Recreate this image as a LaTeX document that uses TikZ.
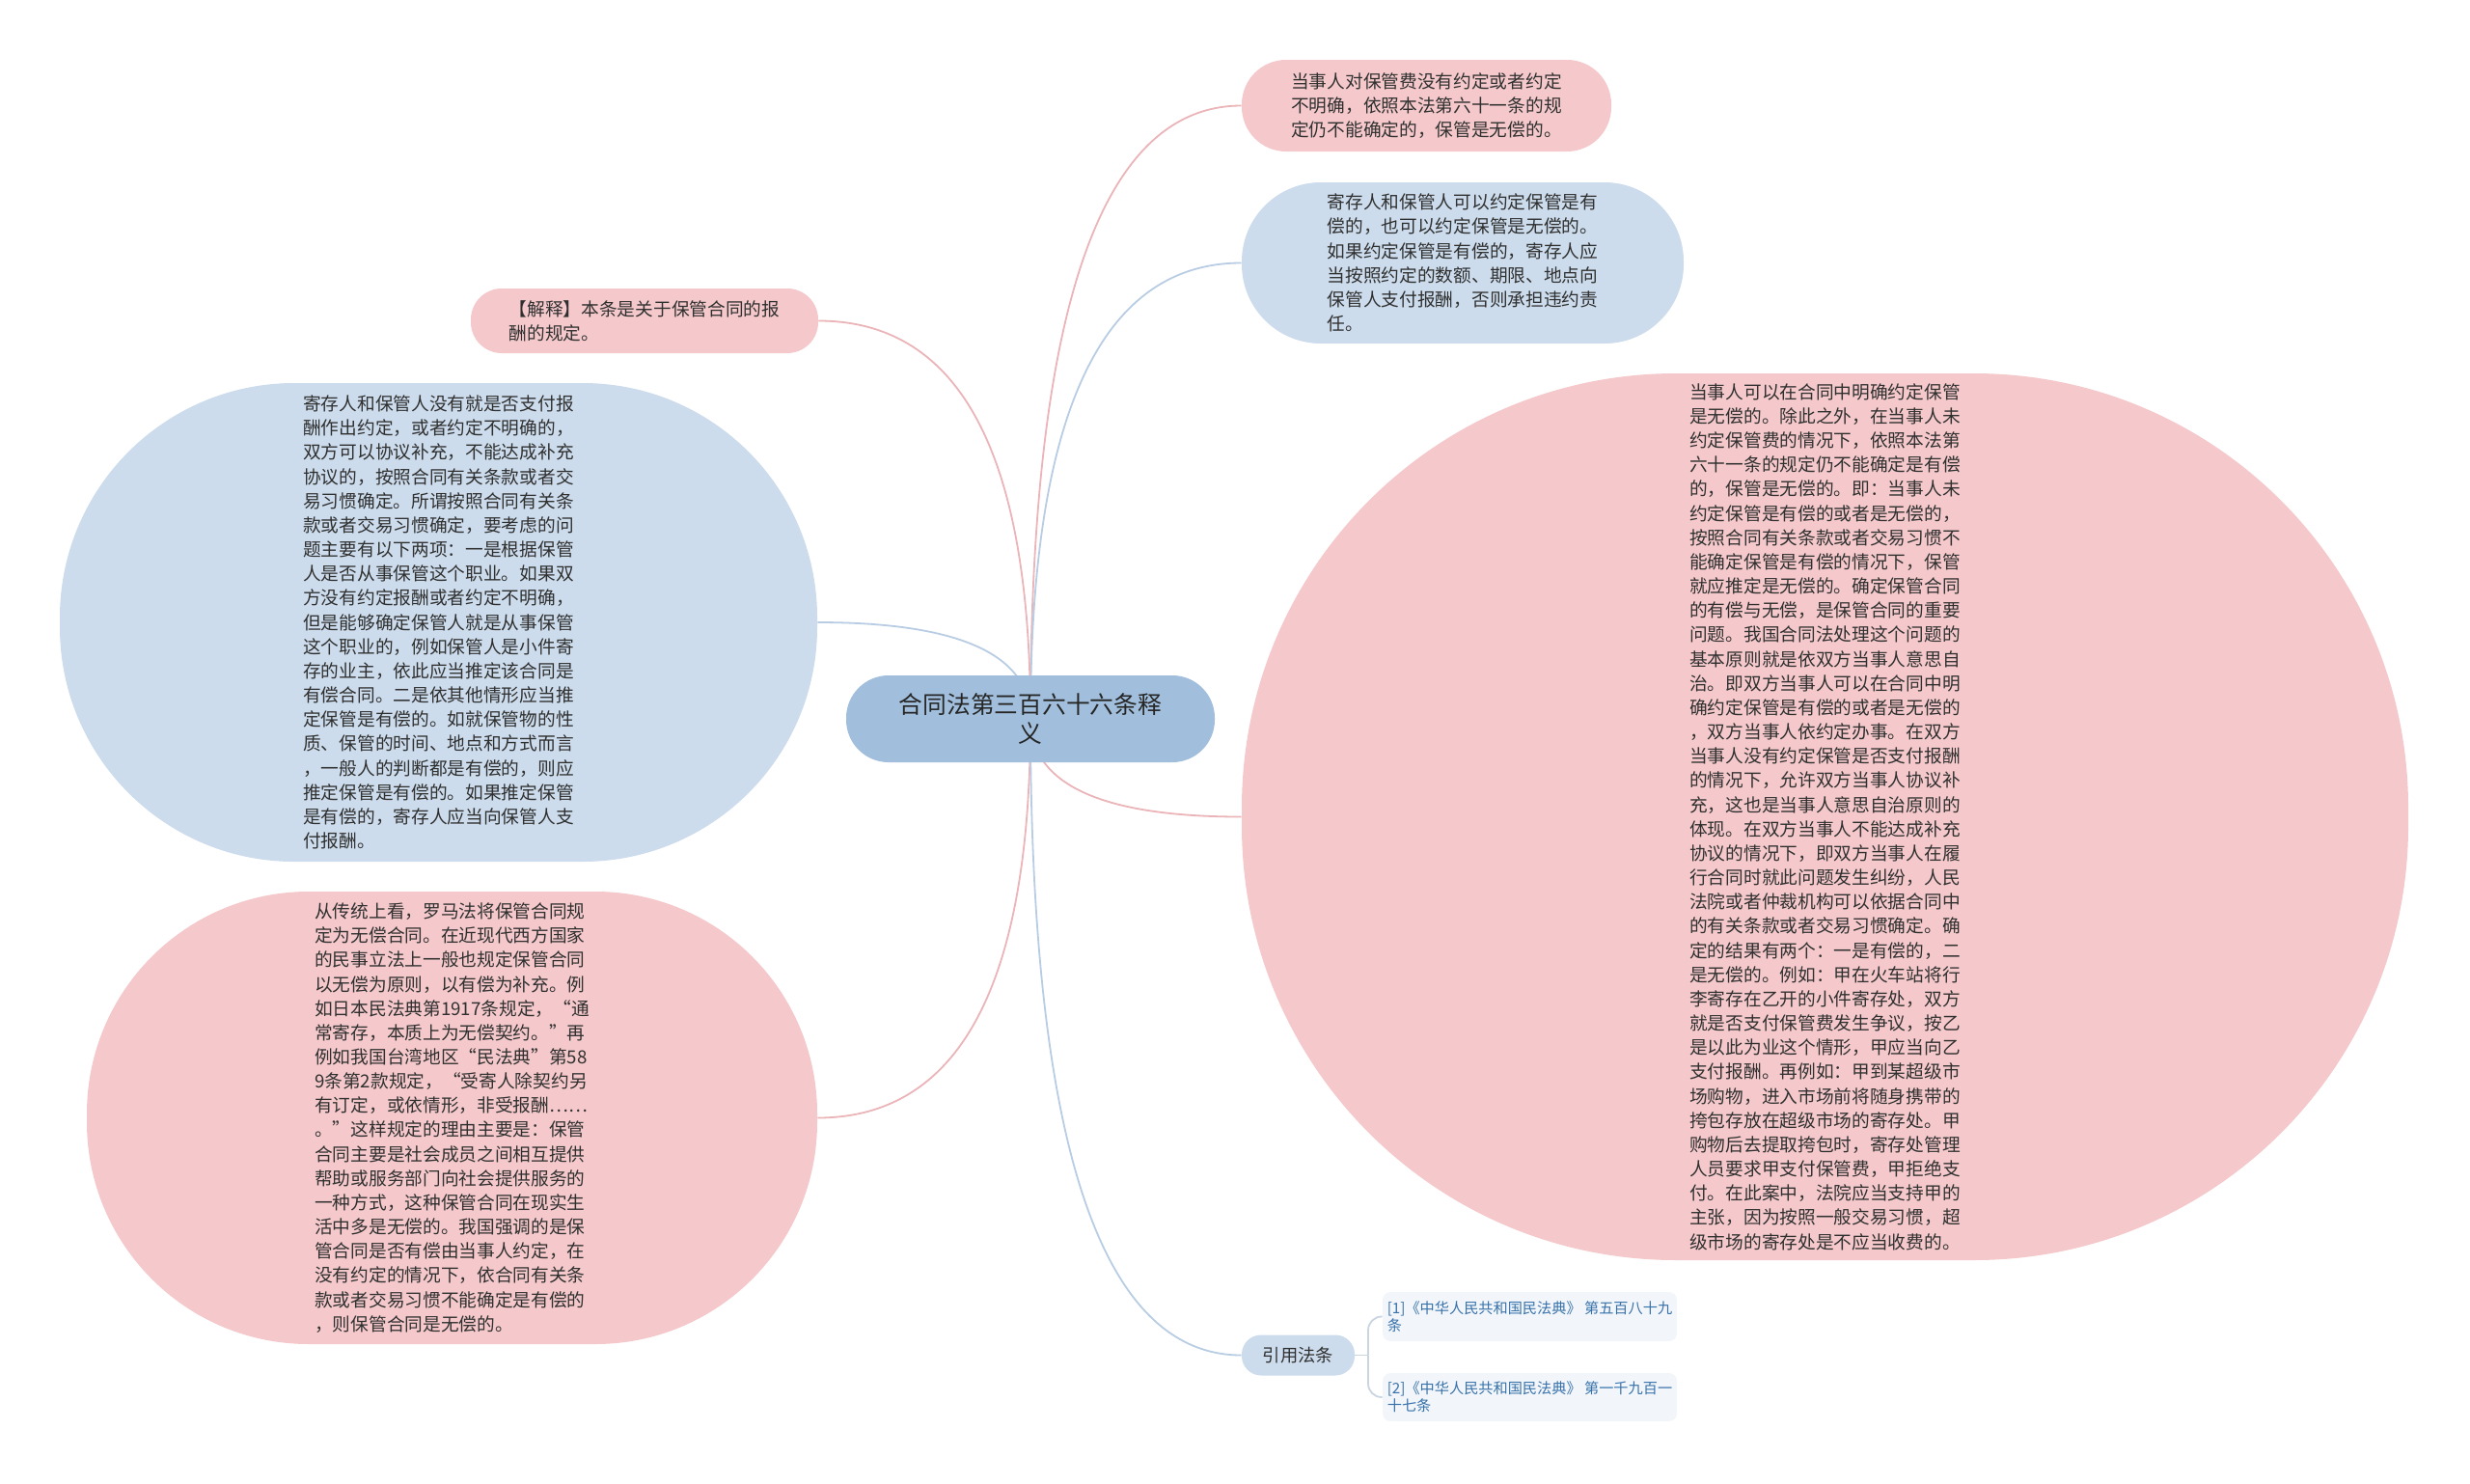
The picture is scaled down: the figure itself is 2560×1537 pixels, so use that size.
\documentclass[tikz,border=0pt]{standalone}
\usepackage{fontspec}
\setmainfont{Noto Sans CJK SC}
\usepackage{xcolor}
\usepackage{tikz}
\usetikzlibrary{calc, backgrounds}

\definecolor{pinkfill}{HTML}{F5C9CB}
\definecolor{bluefill}{HTML}{CCDCEC}
\definecolor{rootfill}{HTML}{A1BFDC}
\definecolor{pinkline}{HTML}{EBB4B8}
\definecolor{blueline}{HTML}{B8CDE3}
\definecolor{forkline}{HTML}{C9D5E1}
\definecolor{reffill}{HTML}{F2F6FB}
\definecolor{reftext}{HTML}{3872AA}
\definecolor{bodytext}{HTML}{303030}

\begin{document}
\begin{tikzpicture}[
      x=0.25mm, y=-0.25mm,
      every node/.style = {shape=rectangle, inner sep=0pt, align=left,
        text=bodytext, font=\fontsize{13.3pt}{17.9pt}\selectfont},
      sized/.style args = {#1/#2/#3}{minimum width=#1*0.25mm,
        minimum height=#2*0.25mm, rounded corners=#3*0.25mm},
      pinkbox/.style = {fill=pinkfill},
      bluebox/.style = {fill=bluefill},
      rootbox/.style = {fill=rootfill, align=center, text=black!85,
        font=\fontsize{17.6pt}{21.3pt}\selectfont},
      citebox/.style = {fill=bluefill, align=center,
        font=\fontsize{13pt}{16pt}\selectfont},
      refbox/.style = {fill=reffill, text=reftext,
        font=\fontsize{10.8pt}{13pt}\selectfont},
      link/.style = {line width=0.45mm}
    ]
      \useasboundingbox (0,0) rectangle (2560,1537);

      \node[rootbox, sized=382/90/44] (root) at (1068,745)
        {合同法第三百六十六条释\\义};

      \node[pinkbox, sized=383/95/46] (nA) at (1478.5,109.5)
        {当事人对保管费没有约定或者约定\\不明确，依照本法第六十一条的规\\定仍不能确定的，保管是无偿的。};
      \node[bluebox, sized=458/167/82] (nB) at (1516,272.5)
        {寄存人和保管人可以约定保管是有\\偿的，也可以约定保管是无偿的。\\如果约定保管是有偿的，寄存人应\\当按照约定的数额、期限、地点向\\保管人支付报酬，否则承担违约责\\任。};
      \node[pinkbox, sized=360/67/32] (nC) at (668,332.5)
        {【解释】本条是关于保管合同的报\\酬的规定。};
      \node[bluebox, sized=785/496/243] (nD) at (454.5,645)
        {寄存人和保管人没有就是否支付报\\酬作出约定，或者约定不明确的，\\双方可以协议补充，不能达成补充\\协议的，按照合同有关条款或者交\\易习惯确定。所谓按照合同有关条\\款或者交易习惯确定，要考虑的问\\题主要有以下两项：一是根据保管\\人是否从事保管这个职业。如果双\\方没有约定报酬或者约定不明确，\\但是能够确定保管人就是从事保管\\这个职业的，例如保管人是小件寄\\存的业主，依此应当推定该合同是\\有偿合同。二是依其他情形应当推\\定保管是有偿的。如就保管物的性\\质、保管的时间、地点和方式而言\\，一般人的判断都是有偿的，则应\\推定保管是有偿的。如果推定保管\\是有偿的，寄存人应当向保管人支\\付报酬。};
      \node[pinkbox, sized=757/469/230] (nE) at (468.5,1158.5)
        {从传统上看，罗马法将保管合同规\\定为无偿合同。在近现代西方国家\\的民事立法上一般也规定保管合同\\以无偿为原则，以有偿为补充。例\\如日本民法典第1917条规定，“通\\常寄存，本质上为无偿契约。”再\\例如我国台湾地区“民法典”第58\\9条第2款规定，“受寄人除契约另\\有订定，或依情形，非受报酬……\\。”这样规定的理由主要是：保管\\合同主要是社会成员之间相互提供\\帮助或服务部门向社会提供服务的\\一种方式，这种保管合同在现实生\\活中多是无偿的。我国强调的是保\\管合同是否有偿由当事人约定，在\\没有约定的情况下，依合同有关条\\款或者交易习惯不能确定是有偿的\\，则保管合同是无偿的。};
      \node[pinkbox, sized=1209/919/450] (nF) at (1891.5,846.5)
        {当事人可以在合同中明确约定保管\\是无偿的。除此之外，在当事人未\\约定保管费的情况下，依照本法第\\六十一条的规定仍不能确定是有偿\\的，保管是无偿的。即：当事人未\\约定保管是有偿的或者是无偿的，\\按照合同有关条款或者交易习惯不\\能确定保管是有偿的情况下，保管\\就应推定是无偿的。确定保管合同\\的有偿与无偿，是保管合同的重要\\问题。我国合同法处理这个问题的\\基本原则就是依双方当事人意思自\\治。即双方当事人可以在合同中明\\确约定保管是有偿的或者是无偿的\\，双方当事人依约定办事。在双方\\当事人没有约定保管是否支付报酬\\的情况下，允许双方当事人协议补\\充，这也是当事人意思自治原则的\\体现。在双方当事人不能达成补充\\协议的情况下，即双方当事人在履\\行合同时就此问题发生纠纷，人民\\法院或者仲裁机构可以依据合同中\\的有关条款或者交易习惯确定。确\\定的结果有两个：一是有偿的，二\\是无偿的。例如：甲在火车站将行\\李寄存在乙开的小件寄存处，双方\\就是否支付保管费发生争议，按乙\\是以此为业这个情形，甲应当向乙\\支付报酬。再例如：甲到某超级市\\场购物，进入市场前将随身携带的\\挎包存放在超级市场的寄存处。甲\\购物后去提取挎包时，寄存处管理\\人员要求甲支付保管费，甲拒绝支\\付。在此案中，法院应当支持甲的\\主张，因为按照一般交易习惯，超\\级市场的寄存处是不应当收费的。};

      \node[citebox, sized=117/42/20] (cite) at (1345.5,1404.5) {引用法条};
      \node[refbox, sized=305/51/8] (ref1) at (1585.5,1364.5)
        {[1]《中华人民共和国民法典》 第五百八十九\\条};
      \node[refbox, sized=305/50/8] (ref2) at (1585.5,1448)
        {[2]《中华人民共和国民法典》 第一千九百一\\十七条};

      \begin{scope}[on background layer]
        \foreach \n/\a/\c in {nA/west/pinkline, nB/west/blueline,
            nC/east/pinkline, nD/east/blueline, nE/east/pinkline,
            nF/west/pinkline, cite/west/blueline} {
          \coordinate (bend) at (root.center |- \n.\a);
          \draw[link, \c] (root.center)
            .. controls ($(root.center)!2/3!(bend)$) and ($(\n.\a)!2/3!(bend)$)
            .. (\n.\a);
        }
      \end{scope}

      \coordinate (fork) at (1418,1404.5);
      \draw[link, forkline] (cite.east) -- (fork);
      \draw[link, forkline, rounded corners=3.5mm] (fork) |- (ref1.west);
      \draw[link, forkline, rounded corners=3.5mm] (fork) |- (ref2.west);
    \end{tikzpicture}
\end{document}
